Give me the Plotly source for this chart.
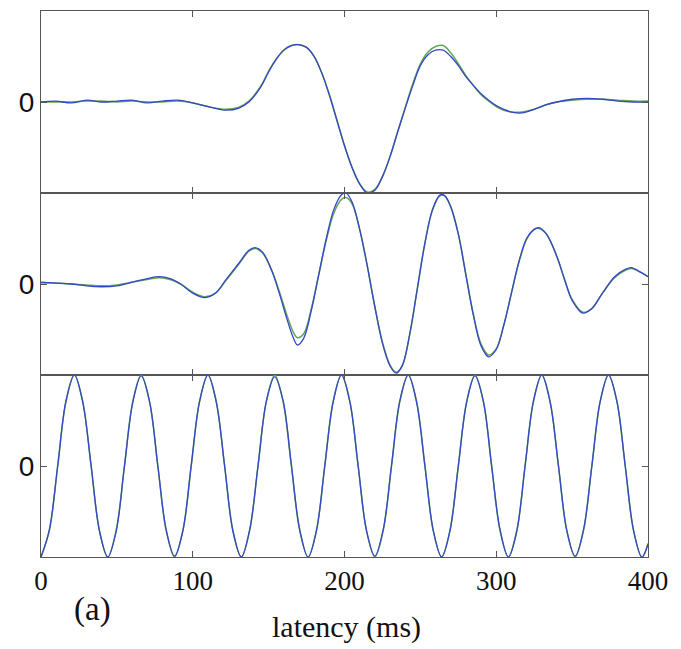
import plotly.graph_objects as go

# ---------------- data ----------------
x1 = [0, 10, 20, 30, 40, 50, 60, 70, 80, 90, 100, 110, 122, 130, 137, 145, 150, 155, 160, 165,
      170, 175, 180, 185, 190, 195, 200, 205, 210, 215, 220, 225, 230, 235, 240, 245, 250, 255,
      260, 265, 270, 275, 280, 285, 290, 295, 300, 305, 310, 317, 325, 333, 340, 350, 360, 370,
      380, 390, 400]
blue1 = [0.0, 0.01, -0.01, 0.02, 0.0, 0.01, 0.02, -0.01, 0.01, 0.02, -0.01, -0.05, -0.09, -0.07,
         0.0, 0.17, 0.33, 0.47, 0.57, 0.62, 0.63, 0.6, 0.5, 0.32, 0.08, -0.2, -0.48, -0.72, -0.9,
         -1.0, -0.97, -0.82, -0.6, -0.33, -0.07, 0.18, 0.4, 0.52, 0.57, 0.57, 0.5, 0.4, 0.28, 0.18,
         0.09, 0.02, -0.04, -0.08, -0.11, -0.12, -0.08, -0.03, 0.0, 0.03, 0.04, 0.03, 0.01, 0.0, 0.0]
green1 = [0.0, 0.0, 0.0, 0.01, 0.01, 0.0, 0.01, 0.0, 0.0, 0.01, -0.01, -0.05, -0.08, -0.06,
          0.01, 0.18, 0.34, 0.47, 0.57, 0.62, 0.63, 0.6, 0.5, 0.32, 0.08, -0.2, -0.48, -0.72, -0.9,
          -0.99, -0.96, -0.82, -0.6, -0.33, -0.06, 0.2, 0.42, 0.55, 0.61, 0.62, 0.54, 0.42, 0.29,
          0.18, 0.08, 0.01, -0.05, -0.09, -0.11, -0.11, -0.08, -0.03, 0.0, 0.02, 0.03, 0.03, 0.02,
          0.01, 0.01]

x2 = [0, 10, 20, 30, 40, 50, 60, 70, 78, 85, 92, 100, 108, 115, 122, 130, 137, 141, 146, 152,
      157, 162, 166, 169, 173, 178, 183, 188, 193, 198, 201, 205, 210, 215, 220, 225, 230, 234,
      238, 243, 248, 253, 258, 263, 266, 270, 275, 280, 285, 290, 295, 300, 305, 310, 315, 320,
      325, 328, 333, 340, 345, 350, 357, 363, 370, 378, 385, 389, 395, 400]
blue2 = [0.02, 0.01, 0.0, -0.02, -0.03, -0.02, 0.02, 0.06, 0.08, 0.06, 0.0, -0.1, -0.15, -0.1,
         0.05, 0.22, 0.37, 0.4, 0.35, 0.15, -0.1, -0.38, -0.58, -0.67, -0.6, -0.3, 0.1, 0.5, 0.82,
         0.98, 1.0, 0.9, 0.6, 0.2, -0.25, -0.65, -0.9, -0.98, -0.9, -0.55, -0.05, 0.45, 0.82, 0.98,
         0.97, 0.85, 0.55, 0.1, -0.35, -0.68, -0.8, -0.72, -0.45, -0.1, 0.25, 0.5, 0.6, 0.62, 0.55,
         0.3, 0.05, -0.18, -0.32, -0.27, -0.1, 0.08, 0.16, 0.18, 0.13, 0.08]
green2 = [0.01, 0.01, 0.0, -0.01, -0.02, -0.01, 0.02, 0.05, 0.07, 0.05, 0.0, -0.09, -0.14, -0.1,
          0.04, 0.21, 0.36, 0.39, 0.34, 0.15, -0.08, -0.34, -0.52, -0.59, -0.55, -0.28, 0.1, 0.48,
          0.78, 0.93, 0.95, 0.88, 0.6, 0.2, -0.25, -0.64, -0.89, -0.97, -0.9, -0.55, -0.05, 0.45,
          0.81, 0.97, 0.97, 0.85, 0.55, 0.1, -0.34, -0.66, -0.78, -0.71, -0.45, -0.1, 0.24, 0.49,
          0.6, 0.61, 0.55, 0.3, 0.05, -0.17, -0.31, -0.27, -0.1, 0.07, 0.15, 0.17, 0.13, 0.08]

x3 = [0, 5.5, 11, 16.5, 22, 27.5, 33, 38.5, 44, 49.5, 55, 60.5, 66, 71.5, 77, 82.5, 88, 93.5,
      99, 104.5, 110, 115.5, 121, 126.5, 132, 137.5, 143, 148.5, 154, 159.5, 165, 170.5, 176,
      181.5, 187, 192.5, 198, 203.5, 209, 214.5, 220, 225.5, 231, 236.5, 242, 247.5, 253, 258.5,
      264, 269.5, 275, 280.5, 286, 291.5, 297, 302.5, 308, 313.5, 319, 324.5, 330, 335.5, 341,
      346.5, 352, 357.5, 363, 368.5, 374, 379.5, 385, 390.5, 396, 400]
blue3 = [-1.0, -0.7, 0.0, 0.72, 1.0, 0.7, 0.01, -0.71,
         -1.0, -0.72, 0.0, 0.7, 0.99, 0.71, 0.0, -0.7,
         -0.99, -0.71, 0.01, 0.71, 1.0, 0.7, 0.0, -0.72,
         -1.0, -0.7, 0.0, 0.71, 0.98, 0.72, 0.01, -0.7,
         -1.0, -0.71, 0.0, 0.7, 1.0, 0.71, 0.0, -0.71,
         -0.99, -0.7, 0.01, 0.72, 1.0, 0.7, 0.0, -0.71,
         -1.0, -0.71, 0.0, 0.7, 0.99, 0.71, -0.01, -0.7,
         -1.0, -0.72, 0.0, 0.71, 1.0, 0.7, 0.0, -0.71,
         -0.99, -0.7, 0.0, 0.71, 1.0, 0.71, 0.0, -0.71,
         -1.0, -0.86]
green3 = [-1.0, -0.71, 0.0, 0.71, 1.0, 0.71, 0.0, -0.71,
          -1.0, -0.71, 0.0, 0.71, 1.0, 0.71, 0.0, -0.71,
          -1.0, -0.71, 0.0, 0.71, 1.0, 0.71, 0.0, -0.71,
          -1.0, -0.71, 0.0, 0.71, 1.0, 0.71, 0.0, -0.71,
          -1.0, -0.71, 0.0, 0.71, 1.0, 0.71, 0.0, -0.71,
          -1.0, -0.71, 0.0, 0.71, 1.0, 0.71, 0.0, -0.71,
          -1.0, -0.71, 0.0, 0.71, 1.0, 0.71, 0.0, -0.71,
          -1.0, -0.71, 0.0, 0.71, 1.0, 0.71, 0.0, -0.71,
          -1.0, -0.71, 0.0, 0.71, 1.0, 0.71, 0.0, -0.71,
          -1.0, -0.85]

x_ticks = [0, 100, 200, 300, 400]
x_ticklabels = ["0", "100", "200", "300", "400"]
y_ticks = [0]
y_ticklabels = ["0"]
x_title = "latency (ms)"
panel_label = "(a)"

# ---------------- styling ----------------
BLUE = "#3646c4"
GREEN = "#62a85a"
AXIS = "#555555"
TEXT = "#111111"

fig = go.Figure()
panels = [(x1, blue1, green1), (x2, blue2, green2), (x3, blue3, green3)]
for i, (xs, b, g) in enumerate(panels, start=1):
    suffix = "" if i == 1 else str(i)
    fig.add_trace(go.Scatter(x=xs, y=g, mode="lines", line=dict(color=GREEN, width=1.5, shape="spline"),
                             xaxis="x" + suffix, yaxis="y" + suffix, showlegend=False))
    fig.add_trace(go.Scatter(x=xs, y=b, mode="lines", line=dict(color=BLUE, width=1.3, shape="spline"),
                             xaxis="x" + suffix, yaxis="y" + suffix, showlegend=False))

domains = [[2 / 3, 1.0], [1 / 3, 2 / 3], [0.0, 1 / 3]]
layout = dict(
    width=681, height=649,
    margin=dict(l=41, r=33, t=11, b=92),
    plot_bgcolor="white", paper_bgcolor="white",
    showlegend=False,
)
for i in range(1, 4):
    suffix = "" if i == 1 else str(i)
    layout["xaxis" + suffix] = dict(
        domain=[0, 1], anchor="y" + suffix, range=[0, 400],
        tickvals=x_ticks, ticktext=x_ticklabels, showticklabels=(i == 3),
        ticks="inside", ticklen=6, tickwidth=1.2, tickcolor=AXIS,
        showline=True, linecolor=AXIS, linewidth=1.1, mirror="ticks",
        showgrid=False, zeroline=False,
        tickfont=dict(family="Liberation Serif", size=27, color=TEXT),
    )
    layout["yaxis" + suffix] = dict(
        domain=domains[i - 1], anchor="x" + suffix, range=[-1.0, 1.0],
        tickvals=y_ticks, ticktext=y_ticklabels,
        ticks="inside", ticklen=6, tickwidth=1.2, tickcolor=AXIS,
        showline=True, linecolor=AXIS, linewidth=1.1, mirror="ticks",
        showgrid=False, zeroline=False,
        tickfont=dict(family="Liberation Sans", size=28, color=TEXT),
    )
fig.update_layout(**layout)

fig.add_annotation(text=x_title, xref="paper", yref="paper", x=0.503, y=-70 / 546,
                   xanchor="center", yanchor="middle", showarrow=False,
                   font=dict(family="Liberation Serif", size=30, color=TEXT))
fig.add_annotation(text=panel_label, xref="paper", yref="paper", x=(92 - 41) / 607, y=-52 / 546,
                   xanchor="center", yanchor="middle", showarrow=False,
                   font=dict(family="Liberation Serif", size=33, color=TEXT))

fig.write_html("out.html")
